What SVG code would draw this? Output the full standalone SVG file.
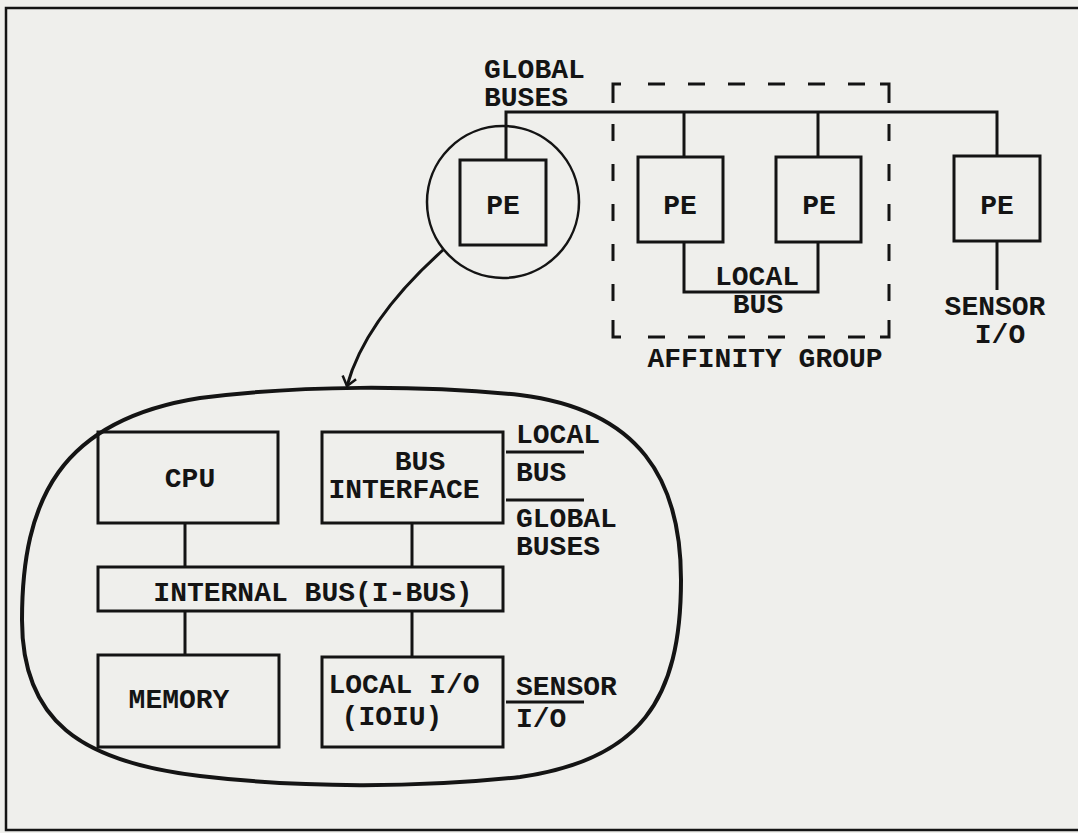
<svg xmlns="http://www.w3.org/2000/svg" width="1078" height="833" viewBox="0 0 1078 833">
<defs>
<style>
.t{font-family:"Liberation Mono","DejaVu Sans Mono",monospace;font-weight:bold;font-size:28px;fill:#141414}
.m{text-anchor:middle}
.b{fill:none;stroke:#141414;stroke-width:3}
.l{fill:none;stroke:#141414;stroke-width:3}
.d{fill:none;stroke:#141414;stroke-width:3;stroke-dasharray:17 23}
</style>
<marker id="arr" markerWidth="20" markerHeight="20" refX="10" refY="10" orient="auto" markerUnits="userSpaceOnUse">
<path d="M1,3 L10,10 L1,17" fill="none" stroke="#141414" stroke-width="2.5"/>
</marker>
</defs>
<rect x="0" y="0" width="1078" height="833" fill="#efefec"/>
<path d="M1078,8 L6,8 L6,830 L1078,830" fill="none" stroke="#141414" stroke-width="2.5"/>

<g id="connectors">
<path class="l" d="M506,160 L506,112 L997,112 L997,156"/>
<path class="l" d="M684,112 L684,157"/>
<path class="l" d="M818,112 L818,157"/>
<path class="l" d="M684,242 L684,292 L818,292 L818,242"/>
<path class="l" d="M997,241 L997,290"/>
<path d="M443,250 Q365,320 347,386" fill="none" stroke="#141414" stroke-width="3" marker-end="url(#arr)"/>
<path class="l" d="M185,523 L185,567 M412,523 L412,567 M185,611 L185,655 M412,611 L412,657"/>
<path class="l" d="M506,452 L584,452 M506,500 L584,500 M506,702 L584,702"/>
</g>

<g id="affinity-group">
<path class="l" d="M613,103 L613,84 L621,84 M880,84 L889,84 L889,103 M889,320 L889,337 L880,337 M621,337 L613,337 L613,320"/>
<path class="d" d="M648,84 L872,84 M648,337 L872,337 M613,124 L613,305 M889,124 L889,305"/>
<text class="t m" x="765" y="367">AFFINITY GROUP</text>
</g>

<g id="pe1">
<circle cx="503" cy="202" r="76" fill="none" stroke="#141414" stroke-width="2.5"/>
<rect class="b" x="460" y="160" width="86" height="85"/>
<text class="t m" x="503" y="214">PE</text>
</g>
<g id="pe2">
<rect class="b" x="638" y="157" width="85" height="85"/>
<text class="t m" x="680" y="214">PE</text>
</g>
<g id="pe3">
<rect class="b" x="776" y="157" width="85" height="85"/>
<text class="t m" x="819" y="214">PE</text>
</g>
<g id="pe4">
<rect class="b" x="954" y="156" width="86" height="85"/>
<text class="t m" x="997" y="214">PE</text>
</g>

<g id="labels-top">
<text class="t" x="484" y="78">GLOBAL</text>
<text class="t" x="484" y="106">BUSES</text>
<text class="t m" x="757" y="285">LOCAL</text>
<text class="t m" x="758" y="313">BUS</text>
<text class="t m" x="995" y="315">SENSOR</text>
<text class="t m" x="1000" y="343">I/O</text>
</g>

<g id="pe-detail">
<path d="M200,398 C300,385 420,385 520,395 C640,410 681,480 681,580 C681,700 640,760 520,777 C420,788 300,788 200,776 C80,762 22,720 22,620 C22,500 60,420 200,398 Z" fill="none" stroke="#141414" stroke-width="4"/>
</g>
<g id="cpu">
<rect class="b" x="98" y="432" width="180" height="91"/>
<text class="t m" x="190" y="487">CPU</text>
</g>
<g id="bus-interface">
<rect class="b" x="322" y="432" width="181" height="91"/>
<text class="t m" x="420" y="470">BUS</text>
<text class="t m" x="404" y="498">INTERFACE</text>
</g>
<g id="internal-bus">
<rect class="b" x="98" y="567" width="405" height="44"/>
<text class="t m" x="313" y="601">INTERNAL BUS(I-BUS)</text>
</g>
<g id="memory">
<rect class="b" x="98" y="655" width="181" height="92"/>
<text class="t m" x="179" y="708">MEMORY</text>
</g>
<g id="local-io">
<rect class="b" x="322" y="657" width="181" height="90"/>
<text class="t m" x="404" y="693">LOCAL I/O</text>
<text class="t m" x="392" y="725">(IOIU)</text>
</g>
<g id="labels-detail">
<text class="t" x="516" y="443">LOCAL</text>
<text class="t" x="516" y="481">BUS</text>
<text class="t" x="516" y="527">GLOBAL</text>
<text class="t" x="516" y="555">BUSES</text>
<text class="t" x="516" y="695">SENSOR</text>
<text class="t" x="516" y="727">I/O</text>
</g>
</svg>
